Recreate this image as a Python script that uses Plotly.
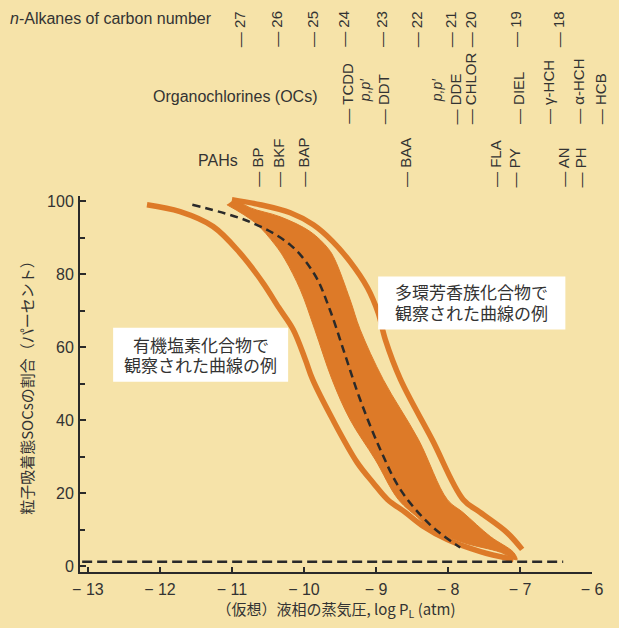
import plotly.graph_objects as go

# ---------------- data (log PL [atm] vs. particle-bound fraction [%]) ----------------
left_curve_x = [-12.18, -11.72, -11.26, -10.89, -10.57, -10.35, -10.15, -9.98, -9.88,
                -9.60, -9.26, -9.04, -8.84, -8.59, -8.34, -8.01, -7.55, -7.09]
left_curve_y = [99.1, 97.2, 93.1, 85.9, 77.7, 70.9, 64.9, 56.6, 51.2,
                40.2, 28.4, 22.9, 18.3, 14.7, 10.9, 7.3, 4.0, 1.8]

band_left_x = [-11.07, -10.68, -10.40, -10.26, -10.05, -9.85, -9.61, -9.36, -9.01,
               -8.69, -8.39, -8.30, -7.79, -7.27, -7.07]
band_left_y = [99.1, 94.2, 88.1, 84.0, 75.8, 64.9, 51.2, 40.2, 29.2,
               18.3, 12.8, 10.9, 6.5, 3.8, 1.8]
band_right_x = [-10.96, -10.75, -10.33, -9.91, -9.66, -9.57, -9.36, -9.22, -8.90,
                -8.41, -8.01, -7.79, -7.41, -7.09, -7.04]
band_right_y = [100.7, 98.3, 95.8, 91.7, 87.0, 84.0, 73.1, 64.9, 51.2,
                34.7, 18.3, 14.7, 8.1, 3.8, 1.8]

right_curve_x = [-11.00, -10.61, -10.19, -9.87, -9.60, -9.36, -9.12, -8.97, -8.87,
                 -8.66, -8.22, -7.79, -7.55, -7.18, -6.97]
right_curve_y = [100.5, 99.1, 96.9, 93.6, 89.0, 83.5, 76.4, 69.5, 62.1,
                 51.2, 34.7, 18.3, 14.7, 9.2, 4.6]

dashed_x = [-11.55, -10.75, -10.19, -9.85, -9.64, -9.43, -9.22, -8.94, -8.66, -8.25, -7.83]
dashed_y = [99.1, 94.4, 88.1, 79.9, 70.3, 58.0, 45.7, 32.0, 21.0, 11.4, 5.1]

baseline_x = [-13.08, -6.40]
baseline_y = [1.2, 1.2]

x_ticks = [-13, -12, -11, -10, -9, -8, -7, -6]
x_ticktext = ["− 13", "− 12", "− 11", "− 10", "− 9", "− 8", "− 7", "− 6"]

alkane_labels = ["27", "26", "25", "24", "23", "22", "21", "20", "19", "18"]
alkane_logp = [-10.90, -10.39, -9.89, -9.46, -8.93, -8.44, -7.97, -7.69, -7.07, -6.47]
oc_labels = ["TCDD", "DDT", "DDE", "CHLOR", "DIEL", "γ-HCH", "α-HCH", "HCB"]
oc_logp = [-9.40, -8.90, -7.89, -7.69, -7.02, -6.61, -6.19, -5.88]
oc_pp_logp = [-9.15, -8.15]
pah_labels = ["BP", "BKF", "BAP", "BAA", "FLA", "PY", "AN", "PH"]
pah_logp = [-10.65, -10.36, -10.01, -8.59, -7.34, -7.07, -6.40, -6.16]

# callout boxes: [x0, x1, y0, y1] in data units, text lines and their y positions
box_oc = [-12.65, -10.22, 50.6, 65.4]
lines_oc = ["有機塩素化合物で", "観察された曲線の例"]
lines_oc_y = [60.2, 54.7]
box_pah = [-8.97, -6.37, 64.9, 79.4]
lines_pah = ["多環芳香族化合物で", "観察された曲線の例"]
lines_pah_y = [74.7, 69.0]

# ---------------- style ----------------
BG = "#F6E3A9"
ORANGE = "#DD7A28"
INK = "#2a2a2a"
TXT = "#333333"
LATIN = "Liberation Sans, Arial, sans-serif"
CJK = "Noto Sans CJK JP, sans-serif"
BOXFONT = "Liberation Sans, Noto Sans CJK JP, sans-serif"

XR = [-13.11, -6.0]
YR = [-1.6, 101.5]
W, H = 619, 628
ML, MR, MT, MB = 80, 27, 196, 56
PH_ = H - MT - MB


def xp(v):
    return (v - XR[0]) / (XR[1] - XR[0])


def yp_px(py):
    return (H - MB - py) / PH_


fig = go.Figure()

fig.add_trace(go.Scatter(
    x=band_left_x + band_right_x[::-1], y=band_left_y + band_right_y[::-1],
    mode="lines", fill="toself", fillcolor=ORANGE,
    line=dict(color=ORANGE, width=1, shape="spline", smoothing=1.0),
    hoverinfo="skip", showlegend=False))

for cx, cy in [(left_curve_x, left_curve_y), (right_curve_x, right_curve_y)]:
    fig.add_trace(go.Scatter(
        x=cx, y=cy, mode="lines",
        line=dict(color=ORANGE, width=5.5, shape="spline", smoothing=1.0),
        hoverinfo="skip", showlegend=False))

fig.add_trace(go.Scatter(
    x=dashed_x, y=dashed_y, mode="lines",
    line=dict(color=INK, width=2.5, dash="8px,5px", shape="spline", smoothing=1.0),
    hoverinfo="skip", showlegend=False))

fig.add_trace(go.Scatter(
    x=baseline_x, y=baseline_y, mode="lines",
    line=dict(color=INK, width=2.5, dash="10px,5px"),
    hoverinfo="skip", showlegend=False))

ann = []
# top rotated labels
for lab, v in zip(alkane_labels, alkane_logp):
    ann.append(dict(x=xp(v), y=yp_px(48), xref="paper", yref="paper", text="— " + lab,
                    textangle=-90, xanchor="center", yanchor="bottom", showarrow=False,
                    font=dict(family=LATIN, size=15, color=TXT), borderpad=0))
for lab, v in zip(oc_labels, oc_logp):
    ann.append(dict(x=xp(v), y=yp_px(125), xref="paper", yref="paper", text="— " + lab,
                    textangle=-90, xanchor="center", yanchor="bottom", showarrow=False,
                    font=dict(family=LATIN, size=15, color=TXT), borderpad=0))
for v in oc_pp_logp:
    ann.append(dict(x=xp(v), y=yp_px(103), xref="paper", yref="paper", text="<i>p,p′</i>",
                    textangle=-90, xanchor="center", yanchor="bottom", showarrow=False,
                    font=dict(family=LATIN, size=14, color=TXT), borderpad=0))
for lab, v in zip(pah_labels, pah_logp):
    ann.append(dict(x=xp(v), y=yp_px(188), xref="paper", yref="paper", text="— " + lab,
                    textangle=-90, xanchor="center", yanchor="bottom", showarrow=False,
                    font=dict(family=LATIN, size=15, color=TXT), borderpad=0))

ann.append(dict(x=(8 - ML) / (W - ML - MR), y=yp_px(18), xref="paper", yref="paper",
                text="<i>n</i>-Alkanes of carbon number", xanchor="left", yanchor="middle",
                showarrow=False, font=dict(family=LATIN, size=16, color=TXT)))
ann.append(dict(x=(320 - ML) / (W - ML - MR), y=yp_px(97), xref="paper", yref="paper",
                text="Organochlorines (OCs)", xanchor="right", yanchor="middle",
                showarrow=False, font=dict(family=LATIN, size=16, color=TXT)))
ann.append(dict(x=(240 - ML) / (W - ML - MR), y=yp_px(160), xref="paper", yref="paper",
                text="PAHs", xanchor="right", yanchor="middle",
                showarrow=False, font=dict(family=LATIN, size=16, color=TXT)))

shapes = []
for box, lines, ys in [(box_oc, lines_oc, lines_oc_y), (box_pah, lines_pah, lines_pah_y)]:
    shapes.append(dict(type="rect", xref="x", yref="y", x0=box[0], x1=box[1],
                       y0=box[2], y1=box[3], fillcolor="white", line=dict(width=0),
                       layer="above"))
    for txt, yy in zip(lines, ys):
        ann.append(dict(x=(box[0] + box[1]) / 2, y=yy, xref="x", yref="y",
                        text=txt, showarrow=False, align="center", borderpad=0,
                        xanchor="center", yanchor="middle",
                        font=dict(family=BOXFONT, size=17, color=TXT)))

fig.update_layout(
    width=W, height=H,
    margin=dict(l=ML, r=MR, t=MT, b=MB, autoexpand=False),
    paper_bgcolor=BG, plot_bgcolor=BG,
    annotations=ann, shapes=shapes,
    xaxis=dict(range=XR, showgrid=False, zeroline=False, showline=True,
               linecolor=INK, linewidth=2, ticks="inside", ticklen=5, tickwidth=1.5,
               tickcolor=INK, tickmode="array", tickvals=x_ticks, ticktext=x_ticktext,
               tickfont=dict(family=LATIN, size=16, color=TXT), ticklabelstandoff=2,
               title=dict(text="（仮想）液相の蒸気圧, log P<sub>L</sub> (atm)", standoff=4,
                          font=dict(family=CJK, size=15, color=TXT))),
    yaxis=dict(range=YR, showgrid=False, zeroline=False, showline=True,
               linecolor=INK, linewidth=2, ticks="inside", ticklen=6, tickwidth=1.5,
               tickcolor=INK, tick0=0, dtick=20,
               minor=dict(dtick=10, ticks="inside", ticklen=5, tickwidth=1.5, tickcolor=INK),
               tickfont=dict(family=LATIN, size=16, color=TXT), ticklabelstandoff=1,
               title=dict(text="粒子吸着態SOCsの割合（パーセント）", standoff=10,
                          font=dict(family=CJK, size=15, color=TXT))),
)

fig.write_html("out.html", config={"displayModeBar": False},
               post_script="document.body.style.margin='0';document.body.style.background='" + BG + "';")
